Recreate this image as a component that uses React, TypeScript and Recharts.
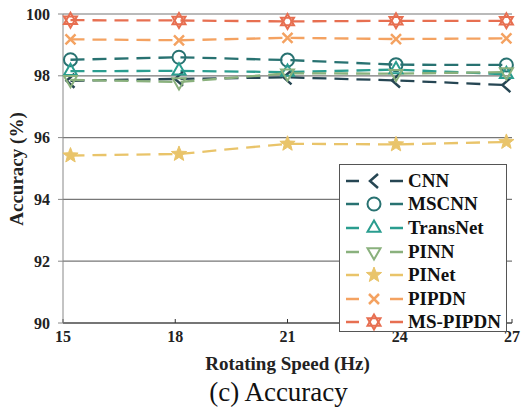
import React from 'react';
import { LineChart, Line, XAxis, YAxis, CartesianGrid, Legend, Label } from 'recharts';

// Rotating speeds (Hz) at which each model was tested
const speeds = [15.2, 18.1, 21.0, 23.9, 26.85];

// Accuracy (%) per model
const cnn = [97.84, 97.9, 97.95, 97.85, 97.7];
const mscnn = [98.52, 98.6, 98.51, 98.36, 98.35];
const transNet = [98.15, 98.16, 98.12, 98.2, 98.05];
const pinn = [97.87, 97.8, 98.08, 98.07, 98.12];
const piNet = [95.42, 95.47, 95.8, 95.78, 95.86];
const pipdn = [99.18, 99.15, 99.23, 99.19, 99.21];
const msPipdn = [99.8, 99.79, 99.76, 99.78, 99.78];

const xTicks = [15, 18, 21, 24, 27];
const yTicks = [90, 92, 94, 96, 98, 100];

const FONT = '"Liberation Serif", "Times New Roman", serif';

type Shape = 'chevron' | 'circle' | 'triUp' | 'triDown' | 'star' | 'cross' | 'hexagram';

const series: { key: string; color: string; shape: Shape; values: number[] }[] = [
  { key: 'CNN', color: '#264653', shape: 'chevron', values: cnn },
  { key: 'MSCNN', color: '#287271', shape: 'circle', values: mscnn },
  { key: 'TransNet', color: '#2a9d8f', shape: 'triUp', values: transNet },
  { key: 'PINN', color: '#8ab17d', shape: 'triDown', values: pinn },
  { key: 'PINet', color: '#e9c46a', shape: 'star', values: piNet },
  { key: 'PIPDN', color: '#f4a261', shape: 'cross', values: pipdn },
  { key: 'MS-PIPDN', color: '#e76f51', shape: 'hexagram', values: msPipdn },
];

const data = speeds.map((speed, i) => {
  const row: Record<string, number> = { speed };
  series.forEach((s) => {
    row[s.key] = s.values[i];
  });
  return row;
});

const polygon = (cx: number, cy: number, r: number, angles: number[]) =>
  angles
    .map((a, i) => {
      const rad = (a * Math.PI) / 180;
      return `${i === 0 ? 'M' : 'L'}${cx + r * Math.cos(rad)},${cy + r * Math.sin(rad)}`;
    })
    .join(' ') + ' Z';

// Draws one marker glyph centred on (cx, cy)
const Marker = ({ cx, cy, color, shape }: { cx: number; cy: number; color: string; shape: Shape }) => {
  const sw = 2;
  switch (shape) {
    case 'chevron':
      return (
        <path
          d={`M${cx + 4},${cy - 7} L${cx - 4},${cy} L${cx + 4},${cy + 7}`}
          fill="none"
          stroke={color}
          strokeWidth={sw + 0.5}
        />
      );
    case 'circle':
      return <circle cx={cx} cy={cy} r={6.5} fill="none" stroke={color} strokeWidth={sw} />;
    case 'triUp':
      return <path d={polygon(cx, cy, 7.5, [-90, 30, 150])} fill="none" stroke={color} strokeWidth={sw} />;
    case 'triDown':
      return <path d={polygon(cx, cy, 7.5, [90, 210, 330])} fill="none" stroke={color} strokeWidth={sw} />;
    case 'star': {
      const pts: string[] = [];
      for (let k = 0; k < 10; k++) {
        const r = k % 2 === 0 ? 8 : 3.4;
        const a = ((-90 + k * 36) * Math.PI) / 180;
        pts.push(`${cx + r * Math.cos(a)},${cy + r * Math.sin(a)}`);
      }
      return <polygon points={pts.join(' ')} fill={color} stroke={color} strokeWidth={1} />;
    }
    case 'cross':
      return (
        <path
          d={`M${cx - 5},${cy - 5} L${cx + 5},${cy + 5} M${cx - 5},${cy + 5} L${cx + 5},${cy - 5}`}
          stroke={color}
          strokeWidth={sw + 0.5}
        />
      );
    case 'hexagram':
    default:
      return (
        <g fill="none" stroke={color} strokeWidth={sw}>
          <path d={polygon(cx, cy, 7.5, [-90, 30, 150])} />
          <path d={polygon(cx, cy, 7.5, [90, 210, 330])} />
        </g>
      );
  }
};

const LegendBox = () => (
  <div
    style={{
      width: 168,
      height: 168,
      border: '1px solid #555',
      background: '#fff',
      boxSizing: 'border-box',
      padding: '4px 0 0 5px',
      fontFamily: FONT,
    }}
  >
    {series.map((s) => (
      <div key={s.key} style={{ display: 'flex', alignItems: 'center', height: 23.6 }}>
        <svg width={62} height={20}>
          <line x1={1} y1={10} x2={14} y2={10} stroke={s.color} strokeWidth={2.5} />
          <Marker cx={29} cy={10} color={s.color} shape={s.shape} />
          <line x1={45} y1={10} x2={58} y2={10} stroke={s.color} strokeWidth={2.5} />
        </svg>
        <span style={{ fontWeight: 'bold', fontSize: 19, color: '#111', marginLeft: 1 }}>{s.key}</span>
      </div>
    ))}
  </div>
);

const YLabel = () => (
  <text
    x={16}
    y={169}
    transform="rotate(-90 16 169)"
    textAnchor="middle"
    dominantBaseline="central"
    fontFamily={FONT}
    fontWeight="bold"
    fontSize={19}
    fill="#222"
  >
    Accuracy (%)
  </text>
);

const App = () => (
  <div style={{ position: 'absolute', left: 0, top: 0, width: 528, height: 412, background: '#fff', fontFamily: FONT }}>
    <LineChart width={528} height={412} data={data} margin={{ top: 14, right: 16, left: 0, bottom: 49 }}>
      <CartesianGrid vertical={false} stroke="#777" strokeWidth={1.2} />
      <XAxis
        dataKey="speed"
        type="number"
        domain={[15, 27]}
        ticks={xTicks}
        height={40}
        stroke="#333"
        tickSize={-4}
        tickMargin={12}
        tick={{ fontFamily: FONT, fontWeight: 'bold', fontSize: 16, fill: '#222' }}
        label={{
          value: 'Rotating Speed (Hz)',
          position: 'bottom',
          offset: -6,
          style: { fontFamily: FONT, fontWeight: 'bold', fontSize: 19, fill: '#222' },
        }}
      />
      <YAxis
        type="number"
        domain={[90, 100]}
        ticks={yTicks}
        width={63}
        stroke="#888"
        tickSize={5}
        tickMargin={8}
        tick={{ fontFamily: FONT, fontWeight: 'bold', fontSize: 16, fill: '#222' }}
        label={<Label content={() => <YLabel />} />}
      />
      <Legend
        layout="vertical"
        align="center"
        verticalAlign="middle"
        content={() => <LegendBox />}
        wrapperStyle={{ left: 339, top: 164, width: 168, height: 168 }}
      />
      {series.map((s) => (
        <Line
          key={s.key}
          dataKey={s.key}
          stroke={s.color}
          strokeWidth={2.3}
          strokeDasharray="14 8"
          isAnimationActive={false}
          dot={(p: any) => (
            <Marker key={`${s.key}-${p.index}`} cx={p.cx} cy={p.cy} color={s.color} shape={s.shape} />
          )}
          activeDot={false}
        />
      ))}
    </LineChart>
    <div
      style={{
        position: 'absolute',
        left: 0,
        width: 557,
        top: 379,
        textAlign: 'center',
        fontSize: 27,
        lineHeight: '27px',
        color: '#111',
      }}
    >
      (c) Accuracy
    </div>
  </div>
);

export default App;
